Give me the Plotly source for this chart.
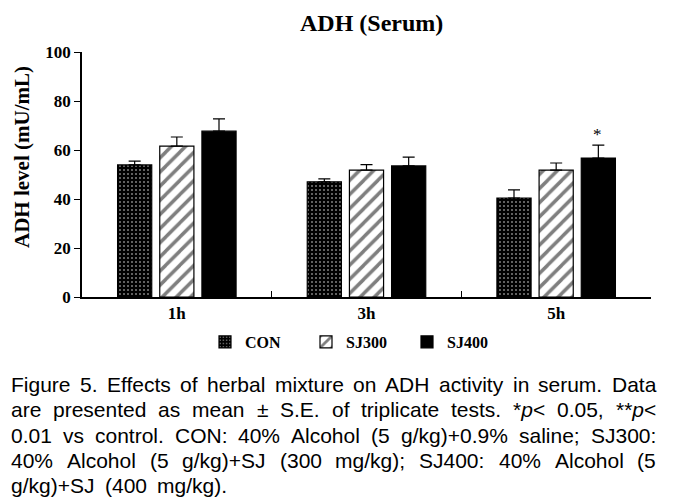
import re
import plotly.graph_objects as go

# ---------------- data ----------------
categories = ["1h", "3h", "5h"]
series_names = ["CON", "SJ300", "SJ400"]
con_vals = [53.9, 47.0, 40.4]
sj300_vals = [61.6, 51.8, 51.8]
sj400_vals = [67.7, 53.5, 56.7]
con_err = [1.6, 1.2, 3.3]
sj300_err = [3.7, 2.2, 2.9]
sj400_err = [5.0, 3.6, 5.3]
significance = ["", "", "*"]   # SJ400 vs control at each time point

title_text = "ADH (Serum)"
y_title_text = "ADH level (mU/mL)"
caption_lines = [
    "Figure 5. Effects of herbal mixture on ADH activity in serum. Data",
    "are presented as mean \u00b1 S.E. of triplicate tests. *<i>p</i>&lt; 0.05, **<i>p</i>&lt;",
    "0.01 vs control. CON: 40% Alcohol (5 g/kg)+0.9% saline; SJ300:",
    "40% Alcohol (5 g/kg)+SJ (300 mg/kg); SJ400: 40% Alcohol (5",
    "g/kg)+SJ (400 mg/kg).",
]

# ---------------- layout ----------------
OFF = 8                      # page body margin
W, H = 675 - OFF, 503 - OFF
L, R, T, B = 82 - OFF, 24, 52 - OFF, 206
plot_w = W - L - R
plot_h = H - T - B

def px2paper(page_x):
    return (page_x - OFF - L) / plot_w

def py2paper(page_y):
    return (H - B - (page_y - OFF)) / plot_h

serif = "Liberation Serif, Times New Roman, serif"
sans = "Liberation Sans, Arial, sans-serif"
CAP_SIZE = 21

# Liberation Sans (Arial-compatible) advance widths, in em
_w = {" ": .278, "%": .889, "(": .333, ")": .333, "*": .389, "+": .584, ",": .278, ".": .278,
      "/": .278, ":": .278, ";": .278, "<": .584, "\u00b1": .549,
      "A": .667, "C": .722, "D": .722, "E": .667, "F": .611, "H": .722, "J": .5, "N": .722,
      "O": .778, "S": .667,
      "a": .556, "b": .556, "c": .5, "d": .556, "e": .556, "f": .278, "g": .556, "h": .556,
      "i": .222, "j": .222, "k": .5, "l": .222, "m": .833, "n": .556, "o": .556, "p": .556,
      "q": .556, "r": .333, "s": .5, "t": .278, "u": .556, "v": .5, "w": .722, "x": .5,
      "y": .5, "z": .5}

def text_width(s, size):
    plain = re.sub(r"<[^>]+>", "", s).replace("&lt;", "<")
    return sum(_w.get(c, .556) for c in plain) * size

cap_left, cap_right = 10, 655
cap_baselines = [393, 418, 443.5, 469, 494]
last_gap = 10.5

styles = [
    dict(color="black", pattern=dict(shape=".", fgcolor="white", bgcolor="black", size=4, solidity=0.2)),
    dict(color="white", pattern=dict(shape="/", fgcolor="black", bgcolor="white", size=10, solidity=0.35)),
    dict(color="black"),
]
vals = [con_vals, sj300_vals, sj400_vals]
errs = [con_err, sj300_err, sj400_err]

fig = go.Figure()
for name, v, e, st in zip(series_names, vals, errs, styles):
    fig.add_trace(go.Bar(
        x=categories, y=v, name=name,
        marker=dict(line=dict(color="black", width=1.2), **st),
        error_y=dict(type="data", symmetric=False, array=e, arrayminus=[0] * len(e),
                     color="black", thickness=1.2, width=6),
    ))

annotations = []
# significance marks above SJ400 bars
for cat, v, e, s in zip(categories, sj400_vals, sj400_err, significance):
    if s:
        annotations.append(dict(x=cat, y=v + e, xref="x", yref="y", text=s, showarrow=False,
                                xshift=41, yshift=-1, yanchor="bottom",
                                font=dict(family=serif, size=17, color="black")))
# y-axis title
annotations.append(dict(x=px2paper(22), y=py2paper(157), xref="paper", yref="paper",
                        xanchor="center", yanchor="middle",
                        text=y_title_text, textangle=-90, showarrow=False,
                        font=dict(family=serif, size=21, color="black", weight="bold")))
# chart title
annotations.append(dict(x=px2paper(371), y=py2paper(23), xref="paper", yref="paper",
                        xanchor="center", yanchor="middle",
                        text=title_text, showarrow=False,
                        font=dict(family=serif, size=24, color="black", weight="bold")))
# justified caption: words placed one by one
for i, (line, base) in enumerate(zip(caption_lines, cap_baselines)):
    words = line.split(" ")
    widths = [text_width(w, CAP_SIZE) for w in words]
    last = i == len(caption_lines) - 1
    if last or len(words) == 1:
        gap = last_gap
    else:
        gap = (cap_right - cap_left - sum(widths)) / (len(words) - 1)
    x = cap_left
    for w, wd in zip(words, widths):
        annotations.append(dict(x=px2paper(x), y=py2paper(base + 0.212 * CAP_SIZE),
                                xref="paper", yref="paper", text=w, showarrow=False,
                                xanchor="left", yanchor="bottom", borderpad=0,
                                font=dict(family=sans, size=CAP_SIZE, color="black")))
        x += wd + gap

fig.update_layout(
    width=W, height=H,
    margin=dict(l=L, r=R, t=T, b=B, autoexpand=False),
    paper_bgcolor="white", plot_bgcolor="white",
    barmode="group", bargap=0.333, bargroupgap=0.19,
    showlegend=True,
    legend=dict(orientation="h", x=px2paper(205), y=py2paper(342), xanchor="left", yanchor="middle",
                font=dict(family=serif, size=16, color="black", weight="bold"),
                entrywidth=56, itemwidth=30, tracegroupgap=0, bgcolor="rgba(0,0,0,0)"),
    annotations=annotations,
    font=dict(family=serif, color="black"),
)
fig.update_xaxes(showline=True, linecolor="black", linewidth=1.5, ticks="inside",
                 tickson="boundaries", ticklen=6, tickcolor="black", tickwidth=1.2,
                 tickfont=dict(family=serif, size=17, color="black", weight="bold"),
                 showgrid=False)
fig.update_yaxes(range=[0, 100], dtick=20, showline=True, linecolor="black", linewidth=1.5,
                 ticks="outside", ticklen=6, tickcolor="black", tickwidth=1.2,
                 tickfont=dict(family=serif, size=17, color="black", weight="bold"),
                 showgrid=False, zeroline=False)

fig.write_html("out.html")
